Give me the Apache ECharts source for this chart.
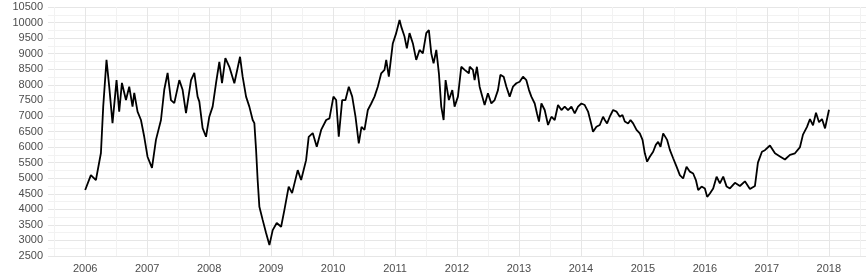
<!DOCTYPE html>
<html lang="en" style="height: 100%">
<head>
  <meta charset="utf-8">
</head>
<body style="height: 100%; margin: 0; background: #fff">
  <div id="container" style="width: 867px; height: 280px"></div>
  <script src="https://cdn.jsdelivr.net/npm/echarts@6/dist/echarts.min.js"></script>
  <script>
    // copper price (decimal years / USD per tonne)
    var years = [
      2006.000, 2006.092, 2006.173, 2006.254, 2006.291, 2006.344, 2006.388, 2006.441, 2006.506, 2006.549,
      2006.593, 2006.658, 2006.711, 2006.764, 2006.792, 2006.845, 2006.900, 2006.953, 2007.006, 2007.078,
      2007.142, 2007.223, 2007.276, 2007.330, 2007.384, 2007.438, 2007.519, 2007.572, 2007.627, 2007.708,
      2007.761, 2007.814, 2007.842, 2007.895, 2007.950, 2008.003, 2008.057, 2008.111, 2008.165, 2008.208,
      2008.262, 2008.326, 2008.407, 2008.460, 2008.499, 2008.541, 2008.596, 2008.649, 2008.703, 2008.730,
      2008.758, 2008.783, 2008.811, 2008.864, 2008.919, 2008.973, 2009.026, 2009.091, 2009.162, 2009.215,
      2009.284, 2009.339, 2009.430, 2009.485, 2009.565, 2009.607, 2009.672, 2009.737, 2009.808, 2009.889,
      2009.942, 2010.006, 2010.050, 2010.092, 2010.147, 2010.200, 2010.254, 2010.309, 2010.362, 2010.415,
      2010.459, 2010.507, 2010.561, 2010.616, 2010.669, 2010.722, 2010.777, 2010.830, 2010.858, 2010.900,
      2010.964, 2011.019, 2011.073, 2011.100, 2011.153, 2011.191, 2011.234, 2011.288, 2011.342, 2011.396,
      2011.449, 2011.504, 2011.546, 2011.585, 2011.622, 2011.666, 2011.708, 2011.746, 2011.784, 2011.816,
      2011.869, 2011.924, 2011.961, 2012.015, 2012.069, 2012.123, 2012.192, 2012.204, 2012.257, 2012.284,
      2012.321, 2012.365, 2012.409, 2012.446, 2012.499, 2012.554, 2012.607, 2012.661, 2012.700, 2012.753,
      2012.797, 2012.850, 2012.903, 2012.958, 2013.011, 2013.065, 2013.119, 2013.162, 2013.200, 2013.254,
      2013.291, 2013.323, 2013.362, 2013.415, 2013.469, 2013.523, 2013.577, 2013.630, 2013.685, 2013.738,
      2013.792, 2013.846, 2013.900, 2013.953, 2014.008, 2014.061, 2014.115, 2014.170, 2014.195, 2014.250,
      2014.304, 2014.357, 2014.385, 2014.422, 2014.465, 2014.519, 2014.573, 2014.627, 2014.670, 2014.708,
      2014.761, 2014.800, 2014.842, 2014.897, 2014.950, 2014.994, 2015.031, 2015.068, 2015.111, 2015.165,
      2015.208, 2015.246, 2015.284, 2015.327, 2015.354, 2015.391, 2015.435, 2015.488, 2015.543, 2015.596,
      2015.649, 2015.704, 2015.758, 2015.811, 2015.855, 2015.892, 2015.947, 2016.000, 2016.037, 2016.081,
      2016.134, 2016.189, 2016.242, 2016.296, 2016.351, 2016.404, 2016.485, 2016.565, 2016.646, 2016.727,
      2016.808, 2016.856, 2016.921, 2016.969, 2017.050, 2017.131, 2017.212, 2017.292, 2017.373, 2017.454,
      2017.535, 2017.583, 2017.648, 2017.696, 2017.745, 2017.793, 2017.842, 2017.890, 2017.939, 2017.971,
      2018.003
    ];
    var prices = [
      4620, 5100, 4940, 5810, 7300, 8800, 7940, 6770, 8150, 7140,
      8060, 7510, 7940, 7300, 7740, 7140, 6870, 6330, 5690, 5330,
      6230, 6870, 7840, 8380, 7510, 7410, 8150, 7840, 7090, 8150,
      8380, 7620, 7460, 6610, 6330, 6975, 7300, 8050, 8740, 8050,
      8860, 8580, 8050, 8540, 8900, 8260, 7620, 7300, 6870, 6770,
      5900, 4940, 4080, 3660, 3240, 2850, 3330, 3560, 3440, 3980,
      4730, 4520, 5260, 4940, 5580, 6330, 6450, 6010, 6550, 6870,
      6920, 7620, 7510, 6330, 7510, 7510, 7940, 7620, 6975, 6120,
      6650, 6550, 7190, 7400, 7620, 7940, 8370, 8480, 8800, 8260,
      9330, 9660, 10080, 9870, 9550, 9170, 9660, 9330, 8800, 9120,
      9010, 9660, 9760, 9010, 8690, 9120, 8370, 7300, 6870, 8150,
      7510, 7830, 7300, 7620, 8580, 8480, 8370, 8580, 8480, 8150,
      8580, 7940, 7620, 7350, 7730, 7400, 7510, 7830, 8320, 8260,
      7940, 7620, 7940, 8050, 8100, 8260, 8150, 7830, 7620, 7400,
      7080, 6820, 7400, 7190, 6710, 6975, 6870, 7350, 7190, 7300,
      7190, 7300, 7080, 7300, 7400, 7350, 7140, 6710, 6490, 6650,
      6710, 6975, 6870, 6760, 6975, 7190, 7140, 6975, 7030, 6820,
      6760, 6870, 6760, 6550, 6440, 6230, 5800, 5530, 5690, 5850,
      6070, 6170, 6010, 6440, 6490, 6230, 5910, 5640, 5370, 5100,
      4990, 5370, 5210, 5150, 4940, 4620, 4730, 4670, 4400, 4510,
      4670, 5050, 4830, 5050, 4730, 4670, 4850, 4750, 4900, 4650,
      4750, 5500, 5850, 5900, 6050, 5800, 5700, 5600, 5750, 5800,
      6000, 6400, 6650, 6900, 6700, 7100, 6800, 6900, 6600, 6900,
      7200
    ];
    var yearTicks = [2006, 2007, 2008, 2009, 2010, 2011, 2012, 2013, 2014, 2015, 2016, 2017, 2018];
    var halfYears = [2005.5, 2006.5, 2007.5, 2008.5, 2009.5, 2010.5, 2011.5, 2012.5, 2013.5, 2014.5, 2015.5, 2016.5, 2017.5, 2018.5];

    var points = years.map(function (y, i) { return [y, prices[i]]; });

    var chart = echarts.init(document.getElementById('container'), null, { renderer: 'canvas' });

    var labelStyle = { color: '#4d4d4d', fontSize: 11, fontFamily: 'Liberation Sans, Arial, sans-serif' };
    var plain = function (v) { return String(v); };

    chart.setOption({
      animation: false,
      grid: { left: 48, right: 1, top: 7, bottom: 24, outerBoundsMode: 'none', containLabel: false },
      xAxis: [
        {
          type: 'value',
          min: 2005.4,
          max: 2018.6,
          axisLine: { show: false },
          axisTick: { show: false, customValues: yearTicks },
          axisLabel: Object.assign({ customValues: yearTicks, margin: 7, formatter: plain }, labelStyle),
          splitLine: { show: true, lineStyle: { color: '#e6e6e6', width: 1 } }
        },
        {
          type: 'value',
          min: 2005.4,
          max: 2018.6,
          position: 'bottom',
          axisLine: { show: false },
          axisTick: { show: false, customValues: halfYears },
          axisLabel: { show: false, customValues: halfYears },
          splitLine: { show: true, lineStyle: { color: '#f2f2f2', width: 1 } }
        }
      ],
      yAxis: {
        type: 'value',
        min: 2500,
        max: 10500,
        interval: 500,
        name: 'USD / tonne',
        nameLocation: 'middle',
        nameRotate: 90,
        nameGap: 50,
        nameTextStyle: { color: '#000', fontSize: 13, fontFamily: 'Liberation Sans, Arial, sans-serif' },
        axisLine: { show: false },
        axisTick: { show: false },
        axisLabel: Object.assign({ margin: 5, formatter: plain }, labelStyle),
        splitLine: { show: true, lineStyle: { color: '#e6e6e6', width: 1 } },
        minorTick: { show: false, splitNumber: 2 },
        minorSplitLine: { show: true, lineStyle: { color: '#f2f2f2', width: 1 } }
      },
      series: [{
        type: 'line',
        data: points,
        showSymbol: false,
        lineStyle: { color: '#000', width: 1.8 },
        z: 3
      }]
    });
  </script>
</body>
</html>
